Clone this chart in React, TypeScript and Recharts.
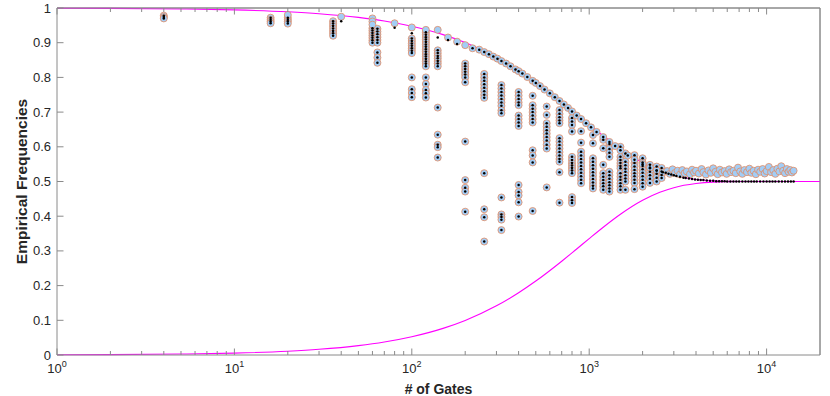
import { ComposedChart, Line, Scatter, XAxis, YAxis, ReferenceLine } from "recharts";

const axisColor = "#8a8a8a";
const textColor = "#262626";
const font = "'Liberation Sans', Arial, Helvetica, sans-serif";

// x ticks (log axis) and y ticks
const majorGates = [1, 10, 100, 1000, 10000];
const gateTicks = [
  1, 2, 3, 4, 5, 6, 7, 8, 9,
  10, 20, 30, 40, 50, 60, 70, 80, 90,
  100, 200, 300, 400, 500, 600, 700, 800, 900,
  1000, 2000, 3000, 4000, 5000, 6000, 7000, 8000, 9000,
  10000,
];
const freqTicks = [0, 0.1, 0.2, 0.3, 0.4, 0.5, 0.6, 0.7, 0.8, 0.9, 1];

// magenta bound curves
const curveGates = [1, 2, 5, 10, 20, 30, 50, 70, 100, 150, 200, 300, 400, 500, 700, 850, 1000, 1200, 1500, 2000, 2500, 3000, 4000, 5000, 7000, 10000, 20000];
const upperBound = [0.9994, 0.9989, 0.9972, 0.9945, 0.989, 0.9836, 0.973, 0.9626, 0.9474, 0.9233, 0.9004, 0.8583, 0.8206, 0.7869, 0.7297, 0.6944, 0.6646, 0.6318, 0.5944, 0.5542, 0.5311, 0.5178, 0.5059, 0.5019, 0.5002, 0.5, 0.5];
const lowerBound = [0.0006, 0.0011, 0.0028, 0.0055, 0.011, 0.0164, 0.027, 0.0374, 0.0526, 0.0767, 0.0996, 0.1417, 0.1794, 0.2131, 0.2703, 0.3056, 0.3354, 0.3682, 0.4056, 0.4458, 0.4689, 0.4822, 0.4941, 0.4981, 0.4998, 0.5, 0.5];

// columns of measured frequencies (ring + dot)
const stackedColumns: [number, number[]][] = [
  [4, [0.978, 0.974, 0.97]],
  [16, [0.972, 0.966, 0.961, 0.956]],
  [20, [0.972, 0.966, 0.961, 0.955]],
  [36, [0.962, 0.955, 0.948, 0.941, 0.934, 0.927, 0.92]],
  [60, [0.942, 0.935, 0.928, 0.921, 0.914, 0.907, 0.9]],
  [64, [0.94, 0.932, 0.924, 0.916, 0.908, 0.9, 0.872, 0.857, 0.842]],
  [100, [0.912, 0.905, 0.898, 0.891, 0.884, 0.877, 0.87, 0.8, 0.766, 0.755, 0.743]],
  [120, [0.93, 0.923, 0.916, 0.909, 0.902, 0.895, 0.888, 0.881, 0.874, 0.867, 0.86, 0.853, 0.846, 0.839, 0.832, 0.8, 0.781, 0.764, 0.754, 0.742]],
  [140, [0.878, 0.87, 0.862, 0.855, 0.847, 0.84, 0.832, 0.713, 0.635, 0.606, 0.599, 0.569]],
  [200, [0.84, 0.832, 0.824, 0.816, 0.808, 0.8, 0.786, 0.615, 0.504, 0.482, 0.471, 0.413]],
  [256, [0.81, 0.8, 0.79, 0.78, 0.77, 0.76, 0.75, 0.741, 0.524, 0.42, 0.397, 0.327]],
  [320, [0.778, 0.768, 0.758, 0.748, 0.738, 0.728, 0.718, 0.705, 0.697, 0.454, 0.405, 0.398, 0.39, 0.36]],
  [400, [0.758, 0.748, 0.738, 0.728, 0.72, 0.69, 0.68, 0.67, 0.66, 0.49, 0.47, 0.46, 0.44, 0.399]],
  [480, [0.747, 0.72, 0.71, 0.7, 0.69, 0.68, 0.67, 0.59, 0.575, 0.555, 0.415]],
  [576, [0.716, 0.692, 0.668, 0.658, 0.648, 0.638, 0.628, 0.618, 0.606, 0.595, 0.483]],
  [680, [0.706, 0.695, 0.685, 0.676, 0.668, 0.625, 0.615, 0.605, 0.595, 0.585, 0.575, 0.565, 0.557, 0.527, 0.439]],
  [800, [0.683, 0.673, 0.663, 0.644, 0.571, 0.562, 0.553, 0.546, 0.539, 0.532, 0.524, 0.455, 0.446, 0.438]],
  [900, [0.645, 0.612, 0.586, 0.575, 0.565, 0.555, 0.545, 0.535, 0.525, 0.515, 0.505, 0.495]],
  [1050, [0.634, 0.61, 0.567, 0.557, 0.547, 0.537, 0.527, 0.517, 0.507, 0.497, 0.488, 0.48]],
  [1200, [0.62, 0.596, 0.548, 0.524, 0.514, 0.504, 0.495, 0.486, 0.476]],
  [1300, [0.608, 0.594, 0.583, 0.571, 0.528, 0.518, 0.508, 0.498, 0.489, 0.48, 0.471]],
  [1500, [0.6, 0.571, 0.562, 0.553, 0.545, 0.538, 0.524, 0.514, 0.505, 0.495, 0.486, 0.476]],
  [1600, [0.581, 0.557, 0.547, 0.537, 0.528, 0.518, 0.509, 0.5, 0.476]],
  [1800, [0.576, 0.553, 0.543, 0.533, 0.524, 0.515, 0.505, 0.496, 0.478]],
  [2000, [0.567, 0.555, 0.545, 0.535, 0.525, 0.515, 0.505, 0.495, 0.485]],
  [2200, [0.548, 0.538, 0.528, 0.518, 0.508, 0.496]],
  [2400, [0.543, 0.532, 0.522, 0.511, 0.5]],
  [2560, [0.539, 0.529, 0.519, 0.51]],
];

// points hugging the upper bound (ring + dot)
const envelopePoints: [number, number][] = [
  [220, 0.884], [240, 0.88], [256, 0.873], [272, 0.867], [288, 0.86], [304, 0.854], [320, 0.847],
  [340, 0.84], [360, 0.832], [384, 0.823], [400, 0.818], [420, 0.811], [448, 0.801], [480, 0.79],
  [500, 0.784], [528, 0.775], [560, 0.765], [600, 0.754], [640, 0.743], [680, 0.732], [720, 0.722],
  [760, 0.712], [800, 0.702], [850, 0.69], [900, 0.68], [960, 0.668], [1024, 0.656], [1100, 0.643],
  [1200, 0.628], [1300, 0.614], [1400, 0.602], [1500, 0.59], [1650, 0.575], [1800, 0.563],
  [2000, 0.55], [2200, 0.54], [2400, 0.532], [2600, 0.527],
];

// rings without a matching dot
const ringOnly: [number, number][] = [
  [20, 0.98], [40, 0.975], [60, 0.97], [60, 0.961], [60, 0.952], [80, 0.956], [100, 0.944],
  [120, 0.937], [140, 0.937], [160, 0.915], [180, 0.903], [200, 0.893],
  [2750, 0.53], [2850, 0.522], [2950, 0.535], [3050, 0.525], [3150, 0.531], [3250, 0.52], [3350, 0.533],
  [3450, 0.524], [3550, 0.529], [3700, 0.521], [3800, 0.534], [3900, 0.526], [4000, 0.531], [4150, 0.523],
  [4300, 0.536], [4400, 0.527], [4550, 0.52], [4700, 0.532], [4850, 0.525], [5000, 0.538], [5150, 0.528],
  [5300, 0.521], [5450, 0.534], [5600, 0.526], [5800, 0.53], [5950, 0.522], [6150, 0.535], [6300, 0.527],
  [6500, 0.531], [6700, 0.524], [6900, 0.54], [7100, 0.529], [7300, 0.522], [7500, 0.533], [7750, 0.527],
  [8000, 0.537], [8200, 0.525], [8450, 0.531], [8700, 0.521], [8950, 0.534], [9200, 0.528], [9500, 0.536],
  [9750, 0.523], [10000, 0.53], [10300, 0.542], [10600, 0.527], [10900, 0.533], [11200, 0.522],
  [11500, 0.537], [11800, 0.529], [12100, 0.544], [12400, 0.531], [12700, 0.524], [13000, 0.536],
  [13300, 0.528], [13600, 0.533], [13900, 0.526], [14200, 0.531],
];

// dots without a ring
const dotOnly: [number, number][] = [
  [40, 0.962], [80, 0.943], [100, 0.927], [140, 0.915], [160, 0.908], [180, 0.896],
  [2700, 0.525], [2800, 0.522], [2900, 0.52], [3000, 0.518], [3100, 0.516], [3250, 0.514], [3400, 0.511],
  [3500, 0.51], [3650, 0.509], [3800, 0.507], [3950, 0.506], [4100, 0.505], [4250, 0.504], [4400, 0.504],
  [4600, 0.503], [4800, 0.502], [5000, 0.502], [5200, 0.501], [5400, 0.501], [5600, 0.501], [5800, 0.501],
  [6000, 0.5], [6250, 0.5], [6500, 0.5], [6750, 0.5], [7000, 0.5], [7300, 0.5], [7600, 0.5], [7900, 0.5],
  [8200, 0.5], [8500, 0.5], [8800, 0.5], [9200, 0.5], [9600, 0.5], [10000, 0.5], [10400, 0.5], [10800, 0.5],
  [11200, 0.5], [11700, 0.5], [12200, 0.5], [12700, 0.5], [13200, 0.5], [13700, 0.5], [14200, 0.5],
];

const toPoints = (list: [number, number][]) => list.map(([n, v]) => ({ n, v }));
const sharedPoints = [
  ...stackedColumns.flatMap(([n, vals]) => vals.map((v) => ({ n, v }))),
  ...toPoints(envelopePoints),
];
const ringData = [...sharedPoints, ...toPoints(ringOnly)];
const dotData = [...sharedPoints, ...toPoints(dotOnly)];
const upperData = curveGates.map((n, i) => ({ n, v: upperBound[i] }));
const lowerData = curveGates.map((n, i) => ({ n, v: lowerBound[i] }));

const tickLen = (value: number) => (majorGates.includes(value) ? 6.5 : 4);

function BottomTick({ x, y, payload }: any) {
  const major = majorGates.includes(payload.value);
  return (
    <g>
      <line x1={x} x2={x} y1={y} y2={y - tickLen(payload.value)} stroke={axisColor} />
      {major && (
        <text x={x} y={y + 18} textAnchor="middle" fill={textColor} fontSize={13} fontFamily={font}>
          10
          <tspan dy={-6} fontSize={9}>{Math.round(Math.log10(payload.value))}</tspan>
        </text>
      )}
    </g>
  );
}

function TopTick({ x, y, payload }: any) {
  return <line x1={x} x2={x} y1={y} y2={y + tickLen(payload.value)} stroke={axisColor} />;
}

function LeftTick({ x, y, payload }: any) {
  return (
    <g>
      <line x1={x} x2={x + 6.5} y1={y} y2={y} stroke={axisColor} />
      <text x={x - 6} y={y + 4.5} textAnchor="end" fill={textColor} fontSize={13} fontFamily={font}>
        {payload.value}
      </text>
    </g>
  );
}

function RightTick({ x, y }: any) {
  return <line x1={x} x2={x - 6.5} y1={y} y2={y} stroke={axisColor} />;
}

const Ring = (p: any) => (
  <circle cx={p.cx} cy={p.cy} r={3.5} fill="#a2cdf6" stroke="#e38b62" strokeWidth={0.8} />
);
const Dot = (p: any) => <circle cx={p.cx} cy={p.cy} r={1.25} fill="#000" />;

export default function App() {
  return (
    <div style={{ position: "absolute", left: 0, top: 0, width: 830, height: 396, background: "#fff" }}>
      <ComposedChart width={830} height={396} margin={{ top: 7, right: 9, bottom: 0, left: 0 }}>
        <XAxis
          dataKey="n"
          type="number"
          scale="log"
          domain={[1, 20000]}
          allowDataOverflow
          ticks={gateTicks}
          interval={0}
          tick={<BottomTick />}
          tickLine={false}
          tickSize={0}
          tickMargin={0}
          height={41}
          stroke={axisColor}
          label={{
            value: "# of Gates",
            position: "insideBottom",
            offset: 2,
            style: { fontFamily: font, fontWeight: "bold", fontSize: 14, fill: textColor },
          }}
        />
        <XAxis
          xAxisId="top"
          orientation="top"
          dataKey="n"
          type="number"
          scale="log"
          domain={[1, 20000]}
          allowDataOverflow
          ticks={gateTicks}
          interval={0}
          tick={<TopTick />}
          tickLine={false}
          tickSize={0}
          tickMargin={0}
          height={1}
          stroke={axisColor}
        />
        <YAxis
          type="number"
          domain={[0, 1]}
          ticks={freqTicks}
          interval={0}
          tick={<LeftTick />}
          tickLine={false}
          tickSize={0}
          tickMargin={0}
          width={57}
          stroke={axisColor}
          label={{
            value: "Empirical Frequencies",
            angle: -90,
            position: "insideLeft",
            offset: 21,
            style: { textAnchor: "middle", fontFamily: font, fontWeight: "bold", fontSize: 15.5, fill: textColor },
          }}
        />
        <YAxis
          yAxisId="right"
          orientation="right"
          type="number"
          domain={[0, 1]}
          ticks={freqTicks}
          interval={0}
          tick={<RightTick />}
          tickLine={false}
          tickSize={0}
          tickMargin={0}
          width={1}
          stroke={axisColor}
        />
        <ReferenceLine y={1} stroke={axisColor} />
        <ReferenceLine x={20000} stroke={axisColor} />
        <Line data={upperData} dataKey="v" type="monotone" stroke="#ff00ff" strokeWidth={1.1} dot={false} isAnimationActive={false} />
        <Line data={lowerData} dataKey="v" type="monotone" stroke="#ff00ff" strokeWidth={1.1} dot={false} isAnimationActive={false} />
        <Scatter data={ringData} dataKey="v" shape={Ring} isAnimationActive={false} />
        <Scatter data={dotData} dataKey="v" shape={Dot} isAnimationActive={false} />
      </ComposedChart>
    </div>
  );
}
